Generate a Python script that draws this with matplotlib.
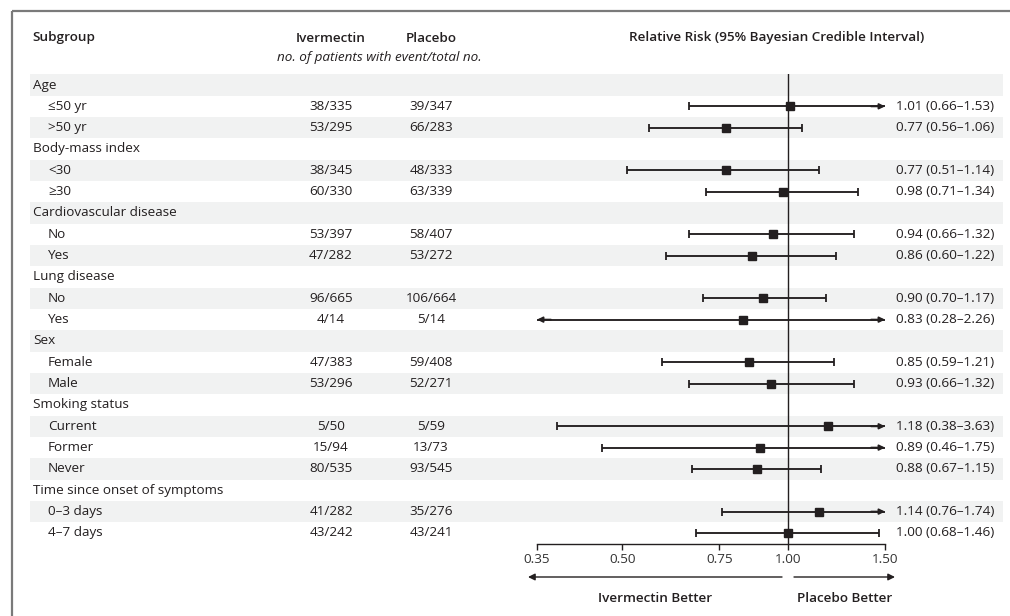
import matplotlib
matplotlib.use("Agg")
import matplotlib.pyplot as plt
from matplotlib.patches import Rectangle
import numpy as np

plt.rcParams['font.family'] = ['Open Sans', 'DejaVu Sans']

labels = ["Age", "≤50 yr", ">50 yr", "Body-mass index", "<30", "≥30",
          "Cardiovascular disease", "No", "Yes", "Lung disease", "No", "Yes",
          "Sex", "Female", "Male", "Smoking status", "Current", "Former", "Never",
          "Time since onset of symptoms", "0–3 days", "4–7 days"]
ivermectin = [None, "38/335", "53/295", None, "38/345", "60/330", None, "53/397", "47/282",
              None, "96/665", "4/14", None, "47/383", "53/296", None, "5/50", "15/94", "80/535",
              None, "41/282", "43/242"]
placebo = [None, "39/347", "66/283", None, "48/333", "63/339", None, "58/407", "53/272",
           None, "106/664", "5/14", None, "59/408", "52/271", None, "5/59", "13/73", "93/545",
           None, "35/276", "43/241"]
rr = [None, 1.01, 0.77, None, 0.77, 0.98, None, 0.94, 0.86, None, 0.90, 0.83,
      None, 0.85, 0.93, None, 1.18, 0.89, 0.88, None, 1.14, 1.00]
lo = [None, 0.66, 0.56, None, 0.51, 0.71, None, 0.66, 0.60, None, 0.70, 0.28,
      None, 0.59, 0.66, None, 0.38, 0.46, 0.67, None, 0.76, 0.68]
hi = [None, 1.53, 1.06, None, 1.14, 1.34, None, 1.32, 1.22, None, 1.17, 2.26,
      None, 1.21, 1.32, None, 3.63, 1.75, 1.15, None, 1.74, 1.46]
ticks = [0.35, 0.50, 0.75, 1.00, 1.50]
xmin, xmax = 0.35, 1.50

W, H = 1010, 616
ink = "#231f20"
band = "#f1f2f2"
row0, rh = 85.0, 21.33
fs = 9.7

fig = plt.figure(figsize=(W / 100, H / 100), dpi=100)
tab = fig.add_axes([0, 0, 1, 1])
tab.set_xlim(0, W)
tab.set_ylim(H, 0)
tab.axis("off")

# frame (top and left visible)
tab.plot([12, W + 5], [11, 11], color="#7a7a7a", lw=1.6, solid_capstyle="butt", clip_on=False)
tab.plot([12, 12], [11, H + 5], color="#7a7a7a", lw=1.6, solid_capstyle="butt", clip_on=False)

# headers
tab.text(32, 38, "Subgroup", fontsize=fs, fontweight="semibold", color=ink, va="center")
tab.text(331, 38, "Ivermectin", fontsize=fs, fontweight="semibold", color=ink, va="center", ha="center")
tab.text(431, 38, "Placebo", fontsize=fs, fontweight="semibold", color=ink, va="center", ha="center")
tab.text(379, 57, "no. of patients with event/total no.", fontsize=fs, style="italic",
         color=ink, va="center", ha="center")
tab.text(777, 38, "Relative Risk (95% Bayesian Credible Interval)", fontsize=fs,
         fontweight="semibold", color=ink, va="center", ha="center")

ys = [row0 + i * rh for i in range(len(labels))]
for i, y in enumerate(ys):
    if i % 2 == 0:
        tab.add_patch(Rectangle((30, y - rh / 2), 973, rh, facecolor=band, edgecolor="none", zorder=0))
    if rr[i] is None:
        tab.text(33, y, labels[i], fontsize=fs, color=ink, va="center")
    else:
        tab.text(48, y, labels[i], fontsize=fs, color=ink, va="center")
        tab.text(331, y, ivermectin[i], fontsize=fs, color=ink, va="center", ha="center")
        tab.text(431, y, placebo[i], fontsize=fs, color=ink, va="center", ha="center")
        tab.text(896, y, f"{rr[i]:.2f} ({lo[i]:.2f}–{hi[i]:.2f})", fontsize=fs,
                 color=ink, va="center")

# forest panel
top_px = ys[0] - rh / 2
bot_px = ys[-1] + rh / 2
fx0, fx1 = 537, 885
ax = fig.add_axes([fx0 / W, 1 - bot_px / H, (fx1 - fx0) / W, (bot_px - top_px) / H])
ax.set_facecolor("none")
ax.set_xscale("log")
ax.set_xlim(xmin, xmax)
ax.set_ylim(bot_px, top_px)
for s in ["top", "left", "right"]:
    ax.spines[s].set_visible(False)
ax.spines["bottom"].set_color(ink)
ax.spines["bottom"].set_linewidth(1.0)
ax.set_yticks([])
ax.set_xticks(ticks)
ax.set_xticklabels([f"{t:.2f}" for t in ticks], fontsize=fs, color="#333333")
ax.minorticks_off()
ax.tick_params(axis="x", direction="out", length=4, width=1.0, color=ink, pad=3)
ax.axvline(1.0, color=ink, lw=1.0, zorder=1)

for i, y in enumerate(ys):
    if rr[i] is None:
        continue
    a = max(lo[i], xmin)
    b = min(hi[i], xmax)
    ax.plot([a, b], [y, y], color=ink, lw=1.35, zorder=2, solid_capstyle="butt")
    if lo[i] < xmin:
        ax.annotate("", xy=(xmin, y), xytext=(xmin * 1.06, y),
                    arrowprops=dict(arrowstyle="-|>", color=ink, lw=1.35, mutation_scale=8,
                                    shrinkA=0, shrinkB=0))
    else:
        ax.plot([lo[i]], [y], marker="|", ms=5.5, mew=1.3, color=ink, zorder=2)
    if hi[i] > xmax:
        ax.annotate("", xy=(xmax, y), xytext=(xmax / 1.06, y),
                    arrowprops=dict(arrowstyle="-|>", color=ink, lw=1.35, mutation_scale=8,
                                    shrinkA=0, shrinkB=0))
    else:
        ax.plot([hi[i]], [y], marker="|", ms=5.5, mew=1.3, color=ink, zorder=2)
    ax.plot([rr[i]], [y], marker="s", ms=5.8, color=ink, zorder=3)

# direction arrows
tab.annotate("", xy=(528, 577), xytext=(782, 577),
             arrowprops=dict(arrowstyle="-|>", color=ink, lw=1.0, mutation_scale=10, shrinkA=0, shrinkB=0))
tab.annotate("", xy=(895, 577), xytext=(794, 577),
             arrowprops=dict(arrowstyle="-|>", color=ink, lw=1.0, mutation_scale=10, shrinkA=0, shrinkB=0))
tab.text(655, 599, "Ivermectin Better", fontsize=fs, fontweight="semibold", color=ink, ha="center", va="center")
tab.text(845, 599, "Placebo Better", fontsize=fs, fontweight="semibold", color=ink, ha="center", va="center")

fig.savefig("out.png", dpi=100)
